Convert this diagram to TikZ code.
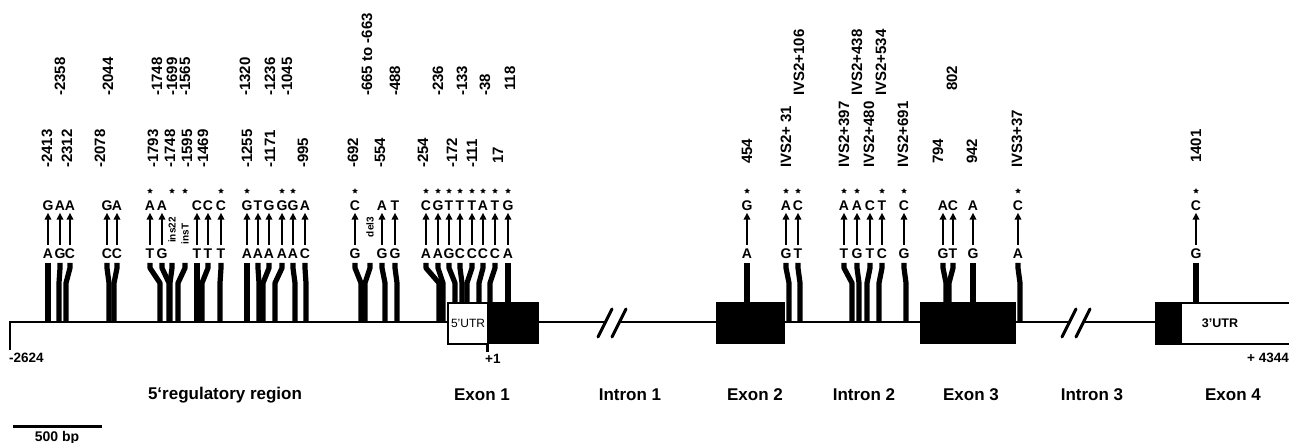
\documentclass[tikz,border=0pt]{standalone}
\usepackage{fontspec}
\setmainfont{Liberation Sans}
\usetikzlibrary{arrows.meta,shapes.geometric}
\tikzset{
  letter/.style={font=\bfseries\fontsize{14}{14}\selectfont, inner sep=0pt, text height=10pt, text depth=0pt},
  poslab/.style={font=\bfseries\fontsize{15}{15}\selectfont, inner sep=0pt, rotate=90, anchor=west},
  smalllab/.style={font=\bfseries\fontsize{10}{10}\selectfont, inner sep=0pt, rotate=90},
  snparrow/.style={line width=1.8pt, -{Triangle[length=7pt,width=6.5pt]}, shorten <=4pt, shorten >=1.5pt},
  snpbar/.style={line width=5.2pt, line join=round},
  snpstar/.style={star, star points=5, star point ratio=2.2, fill=black, inner sep=0pt, minimum size=6pt},
  regionlab/.style={font=\bfseries\fontsize{17}{17}\selectfont, inner sep=0pt},
  exonbox/.style={fill=black, draw=black, line width=1pt},
  utrbox/.style={fill=white, draw=black, line width=2.2pt},
  mainline/.style={line width=2.5pt},
  slash/.style={line width=3pt, line cap=round},
  coordlab/.style={font=\bfseries\fontsize{13.5}{13.5}\selectfont, inner sep=0pt},
}
% #1 id, #2 label x, #3 genomic x, #4 bar end y, #5 top base, #6 bottom base, #7 star
\newcommand\snp[7]{%
  \node[letter] (t#1) at (#2,206) {#5};
  \node[letter] (b#1) at (#2,254) {#6};
  \draw[snparrow] (b#1) -- (t#1);
  \ifnum#7=1 \node[snpstar] (s#1) at (#2,191) {};\fi
  \draw[snpbar] (#2,263) -- (#2,268) -- (#3,283) -- (#3,#4);
}
% #1 id, #2 label x, #3 genomic x, #4 text, #5 text y, #6 star
\newcommand\indel[6]{%
  \node[smalllab] (i#1) at (#2,#5) {#4};
  \ifnum#6=1 \node[snpstar] (s#1) at (#2,191) {};\fi
  \draw[snpbar] (#2,263) -- (#2,268) -- (#3,283) -- (#3,322);
}
\begin{document}
\begin{tikzpicture}[x=1pt,y=-1pt]
\useasboundingbox (0,0) rectangle (1289,443);
\clip (0,0) rectangle (1289,443);

% position labels, upper row
\foreach \t/\x/\y [count=\i] in {-2358/60/96, -2044/108/96, -1748/157/96, -1699/172/96, -1565/185/96,
  -1320/245/96, -1236/270/96, -1045/287/96, -665 to -663/367/96, -488/395/96,
  -236/438/96, -133/462/96, -38/485/96, 118/510/91,
  IVS2+106/799/96, IVS2+438/857/96, IVS2+534/881/96, 802/952/91}
  \node[poslab] (u\i) at (\x,\y) {\t};
% position labels, lower row
\foreach \t/\x/\y [count=\i] in {-2413/47/168, -2312/67/168, -2078/100/168, -1793/153/168, -1748/170/168,
  -1595/187/168, -1469/203/168, -1255/247/168, -1171/270/168, -995/303/168,
  -692/353/168, -554/380/168, -254/423/168, -172/452/168, -111/472/168, 17/498/164,
  454/747/164, IVS2+ 31/786/168, IVS2+397/844/168, IVS2+480/869/168, IVS2+691/903/168,
  794/938/164, 942/972/164, IVS3+37/1017/168, 1401/1196/163}
  \node[poslab] (l\i) at (\x,\y) {\t};

% variants
\snp{1}{48}{48}{322}{G}{A}{0}
\snp{2}{60}{59}{322}{A}{G}{0}
\snp{3}{70}{66}{322}{A}{C}{0}
\snp{4}{107}{109}{322}{G}{C}{0}
\snp{5}{117}{114}{322}{A}{C}{0}
\snp{6}{150}{160}{322}{A}{T}{1}
\snp{7}{162}{169}{322}{A}{G}{0}
\indel{8}{172}{170}{ins22}{230}{1}
\indel{9}{185}{178}{insT}{234}{1}
\snp{10}{197}{197}{322}{C}{T}{0}
\snp{11}{208}{202}{322}{C}{T}{0}
\snp{12}{221}{220}{322}{C}{T}{1}
\snp{13}{247}{247}{322}{G}{A}{1}
\snp{14}{258}{259}{322}{T}{A}{0}
\snp{15}{269}{263}{322}{G}{A}{0}
\snp{16}{282}{275}{322}{G}{A}{1}
\snp{17}{293}{295}{322}{G}{A}{1}
\snp{18}{305}{306}{322}{A}{C}{0}
\snp{19}{355}{361}{322}{C}{G}{1}
\indel{20}{370}{365}{del3}{227}{0}
\snp{21}{382}{385}{322}{A}{G}{0}
\snp{22}{395}{397}{322}{T}{G}{0}
\snp{23}{426}{439}{322}{C}{A}{1}
\snp{24}{438}{443}{322}{G}{A}{1}
\snp{25}{449}{455}{303}{T}{G}{1}
\snp{26}{460}{462}{303}{T}{C}{1}
\snp{27}{472}{467}{303}{T}{C}{1}
\snp{28}{483}{479}{303}{A}{C}{1}
\snp{29}{495}{490}{303}{T}{C}{1}
\snp{30}{508}{508}{303}{G}{A}{1}
\snp{31}{747}{747}{303}{G}{A}{1}
\snp{32}{786}{789}{322}{A}{G}{1}
\snp{33}{798}{800}{322}{C}{T}{1}
\snp{34}{844}{852}{322}{A}{T}{1}
\snp{35}{857}{859}{322}{A}{G}{1}
\snp{36}{870}{867}{322}{C}{T}{0}
\snp{37}{882}{879}{322}{T}{C}{1}
\snp{38}{904}{906}{322}{C}{G}{1}
\snp{39}{943}{946}{303}{A}{G}{0}
\snp{40}{953}{949}{303}{C}{T}{0}
\snp{41}{973}{973}{303}{A}{G}{0}
\snp{42}{1018}{1020}{322}{C}{A}{1}
\snp{43}{1196}{1196}{303}{C}{G}{1}

% main line with breaks
\draw[mainline, line join=miter] (10,350) -- (10,322) -- (605,322);
\draw[mainline] (619,322) -- (1069,322);
\draw[mainline] (1083,322) -- (1295,322);
\draw[slash] (598,337) -- (612,309);
\draw[slash] (612,337) -- (626,309);
\draw[slash] (1062,337) -- (1076,309);
\draw[slash] (1076,337) -- (1090,309);

% exon boxes
\draw[line width=3pt] (487,343) -- (487,352);
\node[utrbox, minimum width=40pt, minimum height=41pt, anchor=north west] (utr5) at (447,302) {};
\node[font=\fontsize{12}{12}\selectfont, inner sep=0pt] (utr5t) at (468,323) {5'UTR};
\fill (487,302) rectangle (539,344);
\fill (716,302) rectangle (785,344);
\fill (920,302) rectangle (1016,344);
\fill (1155,302) rectangle (1181,345);
\draw[line width=2.4pt, fill=white] (1181,303) rectangle (1300,344);
\node[font=\bfseries\fontsize{12.5}{12.5}\selectfont, inner sep=0pt] (utr3t) at (1220,323) {3'UTR};

% coordinates
\node[coordlab, anchor=west] (c1) at (9,358) {-2624};
\node[coordlab, anchor=west] (c2) at (485,359) {+1};
\node[coordlab, anchor=west] (c3) at (1247,358) {+ 4344};

% region labels
\node[regionlab] (r0) at (225,395) {5`regulatory region};
\node[regionlab] (r1) at (482,395) {Exon 1};
\node[regionlab] (r2) at (630,395) {Intron 1};
\node[regionlab] (r3) at (755,395) {Exon 2};
\node[regionlab] (r4) at (864,395) {Intron 2};
\node[regionlab] (r5) at (971,395) {Exon 3};
\node[regionlab] (r6) at (1092,395) {Intron 3};
\node[regionlab] (r7) at (1233,395) {Exon 4};

% scale bar
\coordinate (sb1) at (13,426);
\coordinate (sb2) at (102,426);
\draw[line width=3pt] (sb1) -- (sb2);
\node[font=\bfseries\fontsize{14}{14}\selectfont, inner sep=0pt] (sbl) at (57,437.5) {500 bp};
\end{tikzpicture}
\end{document}
